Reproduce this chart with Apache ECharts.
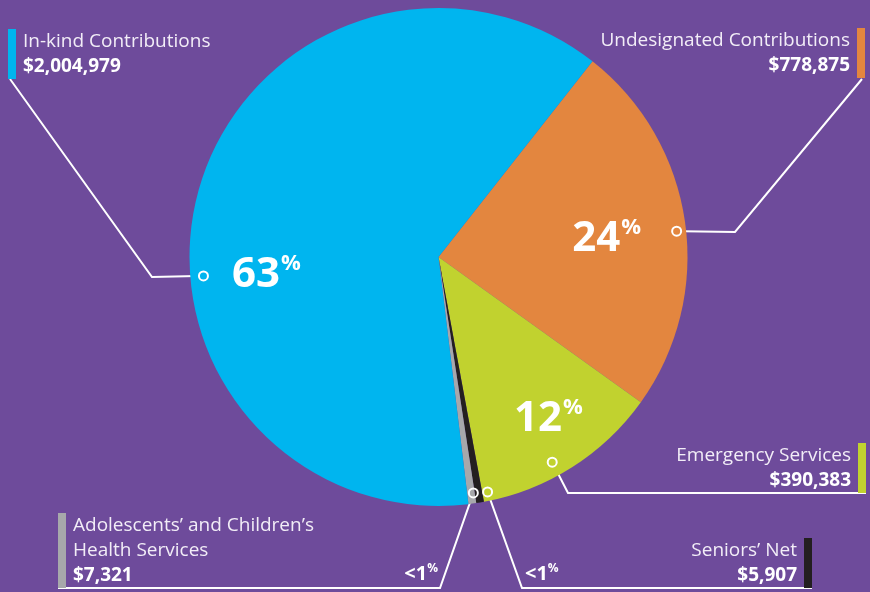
<!DOCTYPE html>
<html>
<head>
<meta charset="utf-8">
<script src="https://cdn.jsdelivr.net/npm/echarts@6/dist/echarts.min.js"></script>
<style>
html,body{margin:0;padding:0;background:#6e4b9b;}
#c{width:870px;height:592px;}
</style>
</head>
<body>
<div id="c"></div>
<script>
// ---- data ----
const categories = ['Undesignated Contributions', 'Emergency Services', 'Seniors\u2019 Net', 'Adolescents\u2019 and Children\u2019s Health Services', 'In-kind Contributions'];
const displayNames = ['Undesignated Contributions', 'Emergency Services', 'Seniors\u2019 Net', 'Adolescents\u2019 and Children\u2019s\nHealth Services', 'In-kind Contributions'];
const values = [778875, 390383, 5907, 7321, 2004979];

// ---- styles / layout ----
const colors = ['#e3863f', '#c1d22f', '#231f20', '#a7a8ab', '#00b5ef'];
const CX = 438.5, CY = 257, R = 249;
const FONT = '"Open Sans", "Noto Sans", sans-serif';
const LH = 25;
function polar(deg, rf) {
  const a = deg * Math.PI / 180;
  return [CX + R * rf * Math.sin(a), CY - R * rf * Math.cos(a)];
}
const pctPos = [
  { a: 83.2, rf: 0.68 },
  { a: 145.5, rf: 0.78 },
  { x: 525, y: 574, align: 'left' },
  { x: 438, y: 574, align: 'right' },
  { a: 264.7, rf: 0.694 }
];
const dotPos = [[83.8, 0.962], [151, 0.942], [168.2, 0.964], [171.6, 0.958], [265.4, 0.947]];
const boxPos = [
  { x: 865, y: 28, align: 'right', elbow: [735, 232], end: [862, 79] },
  { x: 866, y: 443, align: 'right', elbow: [568, 493], end: [866, 493] },
  { x: 812, y: 538, align: 'right', elbow: [522, 588], end: [812, 588] },
  { x: 58, y: 513, align: 'left', elbow: [440, 588], end: [58, 588] },
  { x: 8, y: 29, align: 'left', elbow: [152, 277], end: [10, 79] }
];

const total = values.reduce((s, v) => s + v, 0);
const data = categories.map((c, i) => ({ name: c, value: values[i], itemStyle: { color: colors[i] } }));
const dataT = categories.map((c, i) => ({ name: c, value: values[i] }));

const barRich = {};
colors.forEach((c, i) => { barRich['b' + i] = { width: 8, height: LH, lineHeight: LH, backgroundColor: c }; });

function nameLabel(i) {
  const lines = displayNames[i].split('\n').map(l => '{n|' + l + '}');
  lines.push('{v|$' + values[i].toLocaleString('en-US') + '}');
  const left = boxPos[i].align === 'left';
  return lines.map(l => left ? '{b' + i + '|}{s|}' + l : l + '{s|}{b' + i + '|}').join('\n');
}

const common = {
  type: 'pie',
  center: [CX, CY],
  radius: [0, R],
  startAngle: 90 - 38.2,
  clockwise: true,
  minAngle: 1.8,
  avoidLabelOverlap: false,
  emphasis: { disabled: true },
  animation: false
};

const chart = echarts.init(document.getElementById('c'));
chart.setOption({
  backgroundColor: '#6e4b9b',
  animation: false,
  series: [
    Object.assign({}, common, {
      data: data,
      itemStyle: { borderWidth: 0 },
      labelLine: { show: false },
      label: {
        show: true,
        position: 'inside',
        formatter: p => {
          const pct = p.value / total * 100;
          return pct < 1 ? '{sn|<1}{sp|%}' : '{n|' + Math.round(pct) + '}{p|%}';
        },
        rich: {
          n: { fontFamily: FONT, fontSize: 42, fontWeight: 'bold', color: '#fff', lineHeight: 44 },
          p: { fontFamily: FONT, fontSize: 22, fontWeight: 'bold', color: '#fff', lineHeight: 22, verticalAlign: 'top', padding: [0, 0, 0, 1] },
          sn: { fontFamily: FONT, fontSize: 20, fontWeight: 'bold', color: '#fff', lineHeight: 22 },
          sp: { fontFamily: FONT, fontSize: 12, fontWeight: 'bold', color: '#fff', lineHeight: 12, verticalAlign: 'top' }
        }
      },
      labelLayout: params => {
        const pp = pctPos[params.dataIndex];
        if (pp.a != null) {
          const [x, y] = polar(pp.a, pp.rf);
          return { x: x, y: y + 2, align: 'center', verticalAlign: 'middle' };
        }
        return { x: pp.x, y: pp.y, align: pp.align, verticalAlign: 'middle' };
      }
    }),
    Object.assign({}, common, {
      data: dataT,
      silent: true,
      itemStyle: { color: 'transparent', borderWidth: 0 },
      label: {
        show: true,
        position: 'outside',
        formatter: p => nameLabel(p.dataIndex),
        rich: Object.assign({
          n: { fontFamily: FONT, fontSize: 19, color: '#f2edf7', lineHeight: LH },
          v: { fontFamily: FONT, fontSize: 19, fontWeight: 'bold', color: '#ffffff', lineHeight: LH },
          s: { width: 7, lineHeight: LH }
        }, barRich)
      },
      labelLine: { show: true, smooth: false, lineStyle: { color: '#ffffff', width: 2 } },
      labelLayout: params => {
        const i = params.dataIndex;
        const b = boxPos[i];
        const d = polar(dotPos[i][0], dotPos[i][1]);
        const dx = b.elbow[0] - d[0], dy = b.elbow[1] - d[1];
        const len = Math.sqrt(dx * dx + dy * dy);
        const start = [d[0] + dx / len * 6.5, d[1] + dy / len * 6.5];
        return {
          x: b.x, y: b.y, align: b.align, verticalAlign: 'top',
          labelLinePoints: [start, b.elbow, b.end]
        };
      }
    }),
    Object.assign({}, common, {
      data: dataT,
      silent: true,
      itemStyle: { color: 'transparent', borderWidth: 0 },
      labelLine: { show: false },
      label: {
        show: true,
        position: 'inside',
        formatter: '{d|}',
        rich: { d: { width: 9, height: 9, borderColor: '#ffffff', borderWidth: 2, borderRadius: 7 } }
      },
      labelLayout: params => {
        const d = polar(dotPos[params.dataIndex][0], dotPos[params.dataIndex][1]);
        return { x: d[0], y: d[1], align: 'center', verticalAlign: 'middle' };
      }
    })
  ]
});
</script>
</body>
</html>
